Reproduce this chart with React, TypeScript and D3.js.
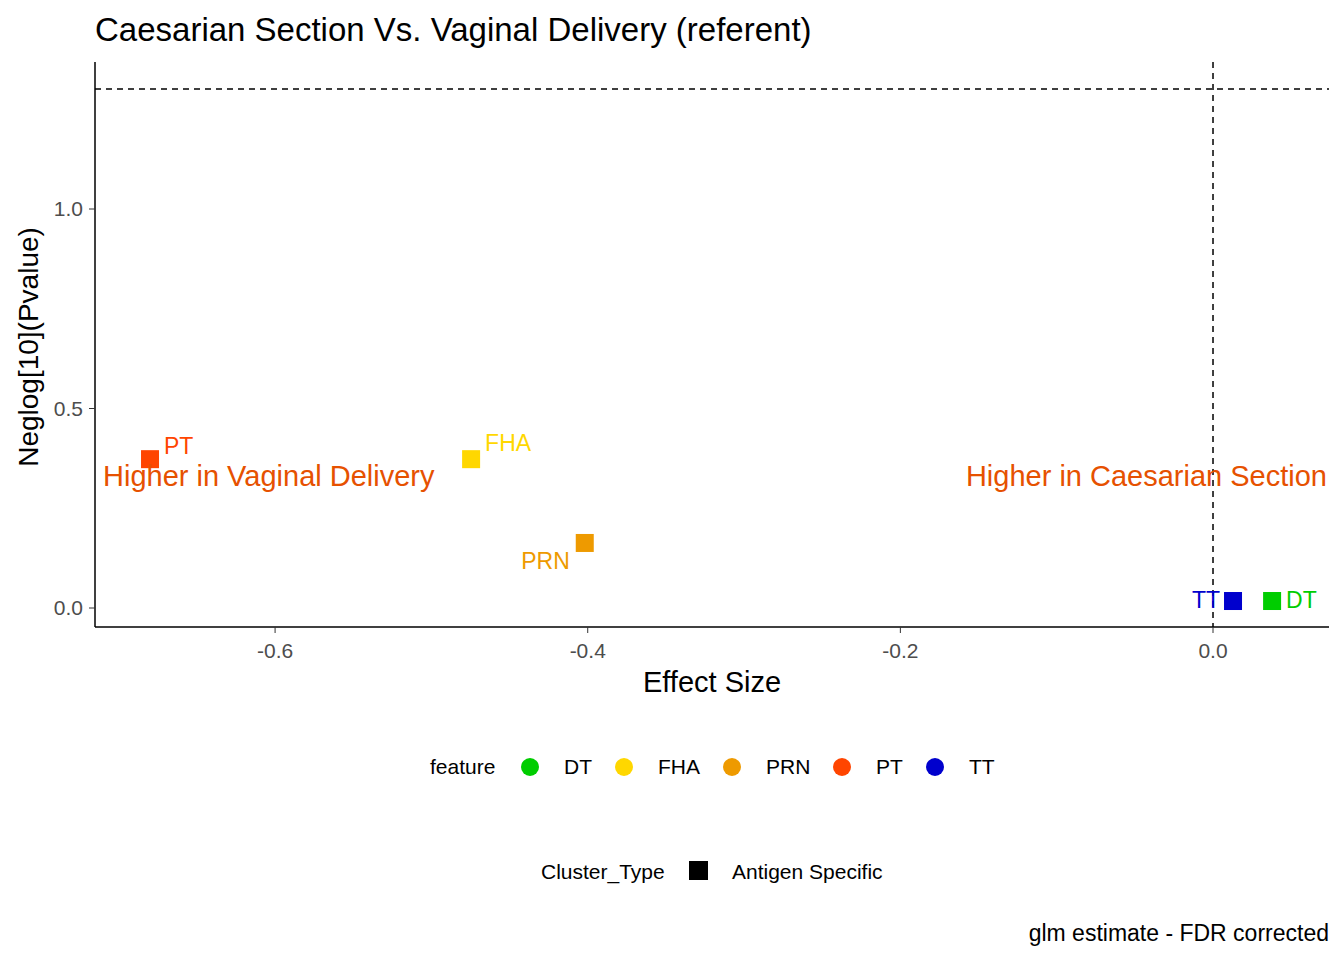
import React from "react";
import * as d3 from "d3";

const features = ["DT", "FHA", "PRN", "PT", "TT"];
const colors = ["#00CD00", "#FFD700", "#EE9A00", "#FF4500", "#0000CD"];
const effect = [0.0378, -0.4746, -0.4019, -0.68, 0.0128];
const neglogp = [0.0175, 0.373, 0.163, 0.373, 0.0175];
const labelDx = [14, 14, -15, 14, -13];
const labelDy = [9, -6, 28, -3, 9];
const labelAnchor = ["start", "start", "end", "start", "end"];
const xTicks = [-0.6, -0.4, -0.2, 0.0];
const yTicks = [0.0, 0.5, 1.0];

export default function App() {
  const L = 95, R = 1329, T = 62, B = 627;
  const x = d3.scaleLinear().domain([-0.7152, 0.0742]).range([L, R]);
  const y = d3.scaleLinear().domain([0, 1]).range([608, 209]);
  const font = "Arial, 'Liberation Sans', sans-serif";
  const orange = "#E65100";
  return (
    <svg width={1344} height={960} style={{ position: "absolute", left: 0, top: 0 }} fontFamily={font}>
      <rect width={1344} height={960} fill="white" />
      <text x={95} y={41} fontSize={33} fill="#000">Caesarian Section Vs. Vaginal Delivery (referent)</text>
      <line x1={L} x2={R} y1={y(1.30103)} y2={y(1.30103)} stroke="#000" strokeDasharray="6,5" strokeWidth={1.5} />
      <line x1={x(0)} x2={x(0)} y1={T} y2={B} stroke="#000" strokeDasharray="6,5" strokeWidth={1.5} />
      <line x1={L} x2={L} y1={T} y2={B} stroke="#000" strokeWidth={1.5} />
      <line x1={L} x2={R} y1={B} y2={B} stroke="#000" strokeWidth={1.5} />
      {xTicks.map(t => (
        <g key={t}>
          <line x1={x(t)} x2={x(t)} y1={B} y2={B + 6} stroke="#333" />
          <text x={x(t)} y={B + 31} textAnchor="middle" fontSize={21} fill="#4d4d4d">{t.toFixed(1)}</text>
        </g>
      ))}
      {yTicks.map(t => (
        <g key={t}>
          <line x1={L - 6} x2={L} y1={y(t)} y2={y(t)} stroke="#333" />
          <text x={L - 12} y={y(t) + 7} textAnchor="end" fontSize={21} fill="#4d4d4d">{t.toFixed(1)}</text>
        </g>
      ))}
      <text x={712} y={692} textAnchor="middle" fontSize={29}>Effect Size</text>
      <text transform="translate(38,347) rotate(-90)" textAnchor="middle" fontSize={28}>Neglog[10](Pvalue)</text>
      {features.map((f, i) => (
        <g key={f}>
          <rect x={x(effect[i]) - 9} y={y(neglogp[i]) - 9} width={18} height={18} fill={colors[i]} />
          <text x={x(effect[i]) + labelDx[i]} y={y(neglogp[i]) + labelDy[i] - 2} textAnchor={labelAnchor[i] as any} fontSize={23} fill={colors[i]}>{f}</text>
        </g>
      ))}
      <text x={103} y={486} fontSize={29} fill={orange}>Higher in Vaginal Delivery</text>
      <text x={1327} y={486} textAnchor="end" fontSize={29} fill={orange}>Higher in Caesarian Section</text>
      <text x={430} y={774} fontSize={21}>feature</text>
      {features.map((f, i) => {
        const cx = [530, 624, 732, 842, 935][i];
        return (
          <g key={f}>
            <circle cx={cx} cy={767} r={9} fill={colors[i]} />
            <text x={cx + 34} y={774} fontSize={21}>{f}</text>
          </g>
        );
      })}
      <text x={541} y={879} fontSize={21}>Cluster_Type</text>
      <rect x={689} y={861} width={19} height={19} fill="#000" />
      <text x={732} y={879} fontSize={21}>Antigen Specific</text>
      <text x={1329} y={941} textAnchor="end" fontSize={23}>glm estimate - FDR corrected</text>
    </svg>
  );
}
